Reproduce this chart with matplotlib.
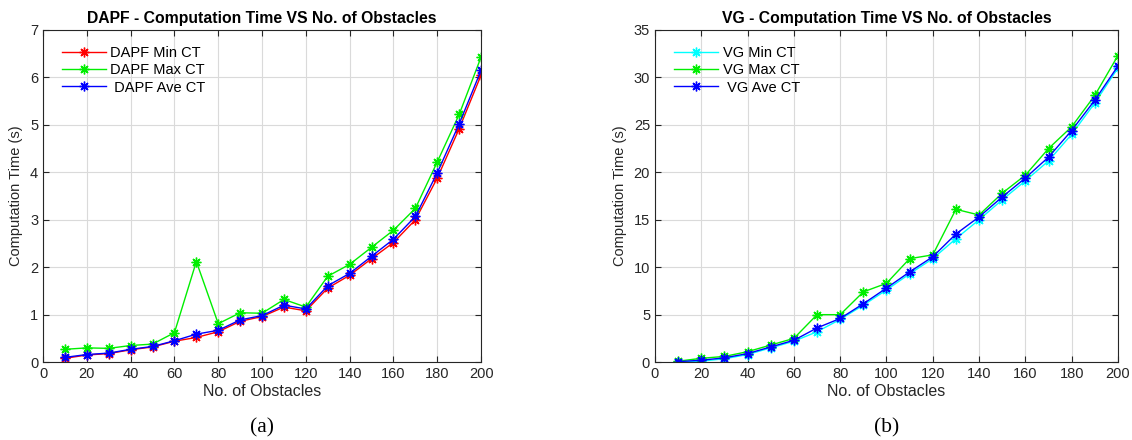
import matplotlib
matplotlib.use("Agg")
import matplotlib.pyplot as plt

plt.rcParams['font.family'] = ['Liberation Sans', 'DejaVu Sans']

obstacles = [10, 20, 30, 40, 50, 60, 70, 80, 90, 100, 110, 120, 130, 140, 150, 160, 170, 180, 190, 200]

dapf_min = [0.08, 0.15, 0.18, 0.26, 0.32, 0.44, 0.52, 0.64, 0.86, 0.96, 1.16, 1.08, 1.56, 1.83, 2.18, 2.52, 3.00, 3.88, 4.92, 6.05]
dapf_max = [0.27, 0.30, 0.29, 0.35, 0.38, 0.62, 2.12, 0.81, 1.04, 1.03, 1.32, 1.16, 1.81, 2.06, 2.42, 2.78, 3.24, 4.22, 5.22, 6.43]
dapf_ave = [0.10, 0.16, 0.19, 0.27, 0.33, 0.45, 0.59, 0.67, 0.89, 0.98, 1.20, 1.12, 1.61, 1.87, 2.23, 2.59, 3.07, 3.99, 5.02, 6.15]

vg_min = [0.0, 0.1, 0.35, 0.8, 1.5, 2.2, 3.2, 4.5, 6.0, 7.6, 9.3, 10.9, 13.0, 15.0, 17.1, 19.1, 21.2, 24.0, 27.3, 31.0]
vg_max = [0.1, 0.4, 0.6, 1.1, 1.8, 2.5, 5.0, 5.0, 7.4, 8.3, 10.9, 11.3, 16.1, 15.5, 17.8, 19.7, 22.5, 24.8, 28.1, 32.3]
vg_ave = [0.05, 0.2, 0.45, 0.9, 1.6, 2.3, 3.6, 4.6, 6.15, 7.8, 9.5, 11.1, 13.5, 15.3, 17.4, 19.4, 21.6, 24.4, 27.6, 31.2]

fig = plt.figure(figsize=(11.32, 4.4), dpi=100)
ax1 = fig.add_axes([0.038, 0.177, 0.387, 0.755])
ax2 = fig.add_axes([0.5786, 0.177, 0.409, 0.755])

def style(ax, ymax, ystep, title, sub):
    ax.set_xlim(0, 200)
    ax.set_ylim(0, ymax)
    ax.set_xticks(range(0, 201, 20))
    ax.set_yticks([v for v in range(0, ymax + 1, ystep)])
    ax.grid(True, color='#dadada', linewidth=0.8)
    ax.set_axisbelow(True)
    ax.tick_params(direction='in', top=True, right=True, labelsize=10.5,
                   colors='#262626', length=4)
    for s in ax.spines.values():
        s.set_color('#262626')
        s.set_linewidth(0.8)
    ax.set_title(title, fontsize=11.3, fontweight='bold', pad=5)
    ax.set_xlabel('No. of Obstacles', fontsize=11.5, color='#262626', labelpad=2)
    ax.set_ylabel('Computation Time (s)', fontsize=10.5, color='#262626', labelpad=5)
    ax.text(0.5, -0.198, sub, transform=ax.transAxes, ha='center', va='center',
            fontsize=15.5, family=['Liberation Serif', 'DejaVu Serif'])
    ax.legend(loc='upper left', frameon=False, fontsize=10.5,
              bbox_to_anchor=(0.02, 0.982), handlelength=3.0,
              labelspacing=0.22, handletextpad=0.3, borderaxespad=0.3)

kw = dict(marker=(8, 2, 0), markersize=7, markeredgewidth=1.0, linewidth=1.0)
ax1.plot(obstacles, dapf_min, color='#ff0000', label='DAPF Min CT', **kw)
ax1.plot(obstacles, dapf_max, color='#00ee00', label='DAPF Max CT', **kw)
ax1.plot(obstacles, dapf_ave, color='#0000ff', label=' DAPF Ave CT', **kw)
style(ax1, 7, 1, 'DAPF - Computation Time VS No. of Obstacles', '(a)')

ax2.plot(obstacles, vg_min, color='#00ffff', label='VG Min CT', **kw)
ax2.plot(obstacles, vg_max, color='#00ee00', label='VG Max CT', **kw)
ax2.plot(obstacles, vg_ave, color='#0000ff', label=' VG Ave CT', **kw)
style(ax2, 35, 5, 'VG - Computation Time VS No. of Obstacles', '(b)')

fig.savefig('out.png', dpi=100)
